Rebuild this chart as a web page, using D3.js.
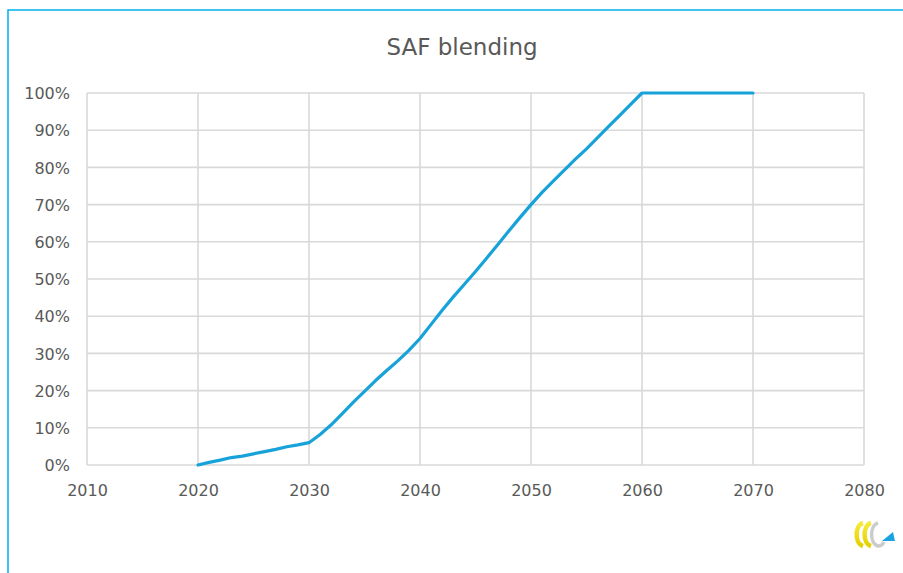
<!DOCTYPE html>
<html>
<head>
<meta charset="utf-8">
<script src="https://cdn.jsdelivr.net/npm/d3@7"></script>
<style>
  html, body { margin: 0; padding: 0; background: #ffffff; }
  svg { display: block; }
  text { font-family: "DejaVu Sans", Verdana, sans-serif; fill: #595959; }
</style>
</head>
<body>
<svg id="chart" width="903" height="573"></svg>
<script>
// SAF blending mandate trajectory (share of sustainable aviation fuel)
const years = [
  2020, 2021, 2022, 2023, 2024, 2025, 2026, 2027, 2028, 2029,
  2030, 2031, 2032, 2033, 2034, 2035, 2036, 2037, 2038, 2039,
  2040, 2041, 2042, 2043, 2044, 2045, 2046, 2047, 2048, 2049,
  2050, 2051, 2052, 2053, 2054, 2055, 2056, 2057, 2058, 2059,
  2060, 2061, 2062, 2063, 2064, 2065, 2066, 2067, 2068, 2069, 2070
];
const blendShare = [
  0.0, 0.7, 1.3, 2.0, 2.4, 3.0, 3.6, 4.2, 4.9, 5.4,
  6.0, 8.2, 10.8, 13.8, 16.9, 19.8, 22.7, 25.4, 28.0, 30.8,
  34.0, 37.8, 41.6, 45.2, 48.6, 52.0, 55.6, 59.2, 62.9, 66.5,
  70.0, 73.3, 76.3, 79.3, 82.2, 85.0, 88.0, 91.0, 94.0, 97.0,
  100, 100, 100, 100, 100, 100, 100, 100, 100, 100, 100
];
const xTicks = [2010, 2020, 2030, 2040, 2050, 2060, 2070, 2080];
const yTicks = [0, 10, 20, 30, 40, 50, 60, 70, 80, 90, 100];
const title = "SAF blending";

const svg = d3.select("#chart");

const x = d3.scaleLinear().domain([2010, 2080]).range([87, 864]);
const y = d3.scaleLinear().domain([0, 100]).range([465, 93]);

// outer frame (top and left edges)
svg.append("path")
  .attr("d", "M8,573 L8,10 L903,10")
  .attr("fill", "none")
  .attr("stroke", "#00B0F0")
  .attr("stroke-width", 1.5);

// title
svg.append("text")
  .attr("x", 462)
  .attr("y", 55)
  .attr("text-anchor", "middle")
  .style("font-size", "23px")
  .style("font-weight", "500")
  .text(title);

// gridlines
const grid = svg.append("g").attr("stroke", "#D9D9D9").attr("stroke-width", 1.6);
grid.selectAll("line.h").data(yTicks).join("line")
  .attr("class", "h")
  .attr("x1", x(2010)).attr("x2", x(2080))
  .attr("y1", d => y(d)).attr("y2", d => y(d));
grid.selectAll("line.v").data(xTicks).join("line")
  .attr("class", "v")
  .attr("x1", d => x(d)).attr("x2", d => x(d))
  .attr("y1", y(0)).attr("y2", y(100));

// axes (labels only; grid draws the lines)
const yAxis = d3.axisLeft(y).tickValues(yTicks).tickFormat(d => d + "%").tickSize(0).tickPadding(17);
const gy = svg.append("g").attr("transform", `translate(${x(2010)},0)`).call(yAxis);
gy.select(".domain").remove();
gy.selectAll("text").style("font-size", "16px").attr("fill", "#595959").attr("dy", "0.35em");

const xAxis = d3.axisBottom(x).tickValues(xTicks).tickFormat(d3.format("d")).tickSize(0).tickPadding(20);
const gx = svg.append("g").attr("transform", `translate(0,${y(0)})`).call(xAxis);
gx.select(".domain").remove();
gx.selectAll("text").style("font-size", "16px").attr("fill", "#595959");

// data line
const line = d3.line()
  .x((d, i) => x(years[i]))
  .y(d => y(d));
svg.append("path")
  .datum(blendShare)
  .attr("d", line)
  .attr("fill", "none")
  .attr("stroke", "#18A2DA")
  .attr("stroke-width", 3.2)
  .attr("stroke-linejoin", "round")
  .attr("stroke-linecap", "round");

// small brand mark in the lower-right corner
const logo = svg.append("g").attr("transform", "translate(853,521)");
const ySwatch = logo.append("defs").append("linearGradient")
  .attr("id", "yl").attr("x1", "0").attr("x2", "0").attr("y1", "0").attr("y2", "1");
ySwatch.append("stop").attr("offset", "0").attr("stop-color", "#F5EA3A");
ySwatch.append("stop").attr("offset", "1").attr("stop-color", "#E6D000");
logo.append("path")
  .attr("d", "M10,2 C2,4 1,22 10,25")
  .attr("fill", "none").attr("stroke", "url(#yl)").attr("stroke-width", 4.5);
logo.append("path")
  .attr("d", "M18,2 C10,4 9,22 18,25")
  .attr("fill", "none").attr("stroke", "url(#yl)").attr("stroke-width", 4.5);
logo.append("path")
  .attr("d", "M25,2 C17,4 16,22 25,25 C28,25 30,23 31,21")
  .attr("fill", "none").attr("stroke", "#CCCCCC").attr("stroke-width", 3.5);
logo.append("path")
  .attr("d", "M29,20 L42,20 L40,11 Z")
  .attr("fill", "#1AA3E0");
</script>
</body>
</html>
